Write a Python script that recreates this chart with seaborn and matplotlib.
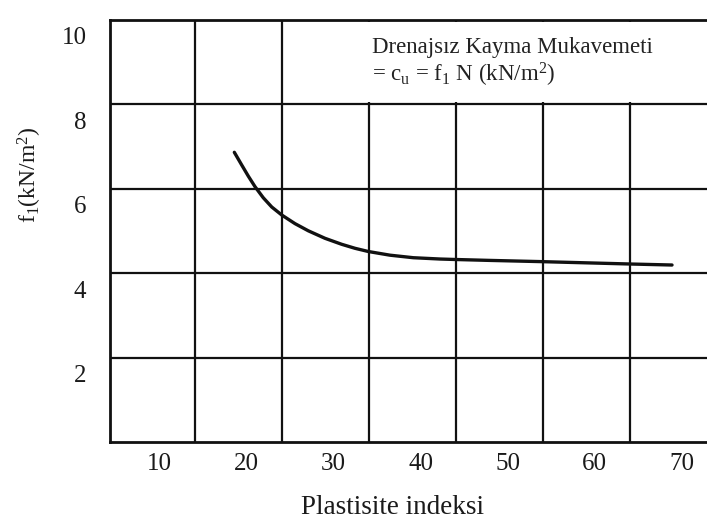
import matplotlib
matplotlib.use("Agg")
import matplotlib.pyplot as plt
import matplotlib.transforms as mtransforms
from matplotlib.patches import Rectangle
import seaborn as sns
import pandas as pd

# ---- data ----
plasticity_index = [19.52, 20.37, 21.13, 21.90, 22.85, 23.82, 24.97, 26.49, 28.02, 29.94,
                    31.86, 33.39, 34.92, 37.41, 40.09, 43.16, 44.89, 48.91, 54.66, 65.0, 69.83]
f1_values = [6.865, 6.564, 6.299, 6.050, 5.787, 5.569, 5.379, 5.175, 5.005, 4.827,
             4.685, 4.590, 4.514, 4.427, 4.367, 4.336, 4.325, 4.303, 4.275, 4.218, 4.194]
x_tick_values = [10, 20, 30, 40, 50, 60, 70]
y_tick_values = [2, 4, 6, 8, 10]
x_grid_values = [15, 25, 35, 45, 55, 65]
y_grid_values = [2, 4, 6, 8]

x_label = "Plastisite indeksi"
y_label = r"f$_\mathregular{1}$(kN/m$^\mathregular{2}$)"
note_line1 = "Drenajsız Kayma Mukavemeti"
note_line2 = r"= c$_\mathregular{u}$ = f$_\mathregular{1}$ N (kN/m$^\mathregular{2}$)"

df = pd.DataFrame({"PI": plasticity_index, "f1": f1_values})

sns.set_theme(style="white")
plt.rcParams["font.family"] = ["Liberation Serif", "DejaVu Serif"]
plt.rcParams["mathtext.fontset"] = "custom"
plt.rcParams["mathtext.rm"] = "Liberation Serif"
plt.rcParams["mathtext.it"] = "Liberation Serif:italic"

fig = plt.figure(figsize=(7.07, 5.23), dpi=100)
fig.patch.set_facecolor("white")
ax = fig.add_axes([110 / 707, 81 / 523, 597 / 707, 422 / 523])
ax.set_facecolor("white")

ax.set_xlim(5.23, 73.85)
ax.set_ylim(0, 10)

# grid lines
for gx in x_grid_values:
    ax.axvline(gx, color="#111111", lw=1.6, zorder=0.5)
for gy in y_grid_values:
    ax.axhline(gy, color="#111111", lw=1.6, zorder=0.5)

# white area behind the annotation (grid interrupted there)
ax.add_patch(Rectangle((34.0, 8.06), 50, 1.9, facecolor="white", edgecolor="none", zorder=1))

sns.lineplot(data=df, x="PI", y="f1", ax=ax, color="#111111", linewidth=2.4,
             sort=False, estimator=None, zorder=3)
for ln in ax.lines:
    ln.set_solid_capstyle("round")
    ln.set_solid_joinstyle("round")

ax.set_xticks(x_tick_values)
ax.set_yticks(y_tick_values)
ax.tick_params(axis="both", length=0, labelsize=18, colors="#1a1a1a")
ax.tick_params(axis="x", pad=8)
ax.tick_params(axis="y", pad=17)

# shift tick labels to where the reference prints them
dx = mtransforms.ScaledTranslation(8 / 100, 0, fig.dpi_scale_trans)
for lab in ax.get_xticklabels():
    lab.set_transform(lab.get_transform() + dx)
dy = mtransforms.ScaledTranslation(0, -16 / 100, fig.dpi_scale_trans)
for lab in ax.get_yticklabels():
    lab.set_transform(lab.get_transform() + dy)

for side in ["left", "top", "bottom"]:
    ax.spines[side].set_visible(True)
    ax.spines[side].set_color("#111111")
    ax.spines[side].set_linewidth(2.0)
ax.spines["right"].set_visible(False)

ax.set_xlabel("")
ax.set_ylabel("")
fig.text(392 / 707, 1 - 508 / 523, x_label, fontsize=19.5, ha="center", va="center", color="#1a1a1a")
fig.text(30 / 707, 1 - 175 / 523, y_label, fontsize=17, ha="center", va="center",
         rotation=90, color="#1a1a1a")

fig.text(372 / 707, 1 - 48 / 523, note_line1, fontsize=16.5, ha="left", va="center", color="#222222")
fig.text(372 / 707, 1 - 75 / 523, note_line2, fontsize=16.5, ha="left", va="center", color="#222222")

fig.savefig("out.png", dpi=100, facecolor="white")
